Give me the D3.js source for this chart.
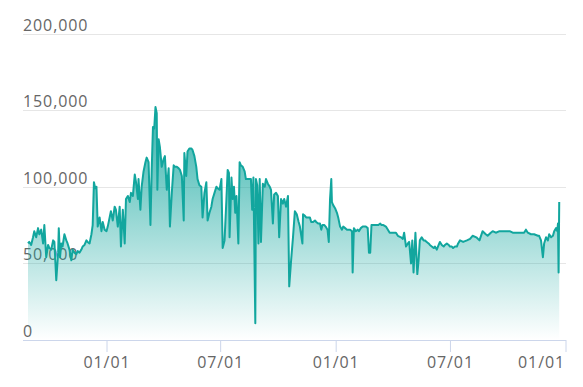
<!DOCTYPE html>
<html>
<head>
<meta charset="utf-8">
<script src="https://cdn.jsdelivr.net/npm/d3@7/dist/d3.min.js"></script>
<style>
  html, body { margin: 0; padding: 0; background: #ffffff; }
  svg { display: block; }
  text { font-family: "Open Sans", "Noto Sans", sans-serif; }
</style>
</head>
<body>
<svg id="chart" width="583" height="387"></svg>
<script>
// ---- data ----
const startDate = "2019-01-01";
const dayOffsets = [
  -125,-123,-120,-117,-115,-112,-109,-107,-104,-101,-99,-96,-93,-91,-88,-85,-83,-80,-77,-76,
  -74,-72,-70,-67,-64,-62,-59,-56,-54,-51,-48,-46,-43,-40,-38,-35,-32,-30,-27,-24,
  -22,-20,-18,-16,-14,-11,-8,-6,-3,0,2,5,7,10,13,15,18,21,23,26,
  29,31,34,37,39,42,45,47,50,51,54,56,59,62,64,67,70,72,74,76,
  78,80,81,83,85,88,91,93,96,99,101,104,107,109,112,115,117,120,123,124,
  127,129,132,135,137,140,143,145,148,151,153,156,159,161,164,167,169,172,175,177,
  180,183,185,188,191,193,195,196,199,201,203,205,207,210,212,214,217,220,222,225,
  228,230,232,234,237,238,240,242,244,246,249,252,254,257,260,262,265,267,270,273,
  275,278,281,283,286,289,291,294,297,300,303,306,308,312,313,316,318,321,324,326,
  329,332,334,337,340,342,344,347,349,352,354,356,358,359,361,364,367,369,372,375,
  377,380,383,385,388,391,392,394,397,400,402,405,408,410,413,416,418,420,422,425,
  428,430,433,436,438,441,445,451,456,461,464,469,472,474,477,480,482,485,487,489,
  492,495,497,499,502,505,507,510,513,515,518,521,523,526,529,531,534,537,539,542,
  545,547,550,552,555,558,560,563,568,574,579,583,589,594,599,604,607,612,615,620,
  626,631,636,642,647,652,657,663,665,668,671,676,681,687,689,692,695,697,700,703,
  705,708,711,713,716,718,719,720,721
];
const values = [
  63000,64000,62000,67000,71000,67000,73000,69000,72000,63000,75000,54000,62000,60000,59000,65000,64000,39000,57000,73000,
  54000,63000,61000,69000,65000,63000,59000,52000,59000,57000,56000,58000,57000,59000,61000,62000,65000,64000,63000,69000,
  75000,103000,99000,100000,74000,80000,71000,77000,72000,71000,74000,80000,84000,78000,87000,85000,74000,87000,61000,85000,
  63000,92000,94000,90000,96000,94000,108000,103000,92000,105000,85000,100000,110000,116000,119000,116000,75000,111000,139000,138000,
  152000,148000,98000,131000,126000,113000,118000,120000,98000,112000,74000,96000,114000,113000,113000,112000,111000,107000,78000,122000,
  107000,123000,125000,125000,124000,120000,113000,105000,101000,100000,80000,96000,103000,78000,83000,87000,92000,96000,100000,99000,
  98000,105000,60000,65000,92000,111000,109000,67000,106000,92000,100000,83000,94000,63000,116000,114000,113000,110000,105000,105000,
  105000,105000,85000,106000,11000,105000,101000,63000,105000,64000,102000,100000,105000,102000,100000,98000,76000,95000,96000,94000,
  67000,92000,89000,92000,87000,94000,35000,52000,67000,84000,82000,77000,74000,63000,82000,81000,80000,80000,80000,77000,
  77000,78000,77000,76000,76000,72000,75000,75000,74000,72000,64000,92000,105000,90000,88000,86000,83000,80000,74000,72000,
  74000,73000,72000,72000,72000,71000,44000,73000,71000,72000,71000,73000,74000,74000,74000,73000,57000,57000,75000,75000,
  75000,75000,75000,76000,75000,75000,74000,70000,70000,70000,68000,67000,66000,70000,61000,63000,64000,50000,65000,44000,
  70000,43000,52000,65000,67000,65000,65000,64000,63000,62000,61000,60000,61000,59000,62000,64000,62000,61000,62000,63000,
  62000,61000,61000,60000,61000,61000,63000,65000,64000,65000,66000,68000,67000,65000,71000,69000,68000,70000,71000,70000,
  71000,71000,71000,71000,70000,70000,70000,70000,70000,72000,70000,69000,69000,68000,68000,65000,54000,63000,67000,65000,
  69000,67000,68000,71000,73000,71000,76000,44000,90000
];
const yTicks = [0, 50000, 100000, 150000, 200000];
const xTickDates = ["2019-01-01", "2019-07-01", "2020-01-01", "2020-07-01", "2021-01-01"];

// ---- build ----
const parse = d3.utcParse("%Y-%m-%d");
const t0 = parse(startDate);
const data = dayOffsets.map((o, i) => ({ date: d3.utcDay.offset(t0, o), value: values[i] }));

const svg = d3.select("#chart");
const width = 583;
const plotLeft = 23, plotRight = 566, plotTop = 33.5, plotBottom = 340;

const x = d3.scaleUtc()
  .domain([parse("2019-01-01"), parse("2021-01-01")])
  .range([106.5, 565.5]);
const y = d3.scaleLinear().domain([0, 200000]).range([plotBottom, plotTop]);

// gradient
const defs = svg.append("defs");
const grad = defs.append("linearGradient")
  .attr("id", "areaGrad")
  .attr("gradientUnits", "userSpaceOnUse")
  .attr("x1", 0).attr("x2", 0)
  .attr("y1", y(d3.max(values))).attr("y2", plotBottom);
grad.append("stop").attr("offset", "0").attr("stop-color", "rgb(18,166,158)").attr("stop-opacity", 0.85);
grad.append("stop").attr("offset", "1").attr("stop-color", "rgb(18,166,158)").attr("stop-opacity", 0.0);

// grid lines
svg.append("g").selectAll("line")
  .data(yTicks.filter(d => d > 0))
  .join("line")
  .attr("x1", plotLeft).attr("x2", plotRight)
  .attr("y1", d => Math.round(y(d)) + 0.5).attr("y2", d => Math.round(y(d)) + 0.5)
  .attr("stroke", "#e6e6e6").attr("stroke-width", 1);

// y labels (behind series)
svg.append("g").selectAll("text")
  .data(yTicks)
  .join("text")
  .attr("x", plotLeft)
  .attr("y", d => y(d) - 3)
  .attr("fill", "#666666")
  .attr("font-size", 16)
  .attr("letter-spacing", 0.9)
  .text(d => d3.format(",")(d));

// area + line
const area = d3.area()
  .x(d => x(d.date))
  .y0(y(0))
  .y1(d => y(d.value))
  .curve(d3.curveLinear);
const line = d3.line()
  .x(d => x(d.date))
  .y(d => y(d.value))
  .curve(d3.curveLinear);

svg.append("path").datum(data)
  .attr("d", area)
  .attr("fill", "url(#areaGrad)");
svg.append("path").datum(data)
  .attr("d", line)
  .attr("fill", "none")
  .attr("stroke", "#12a69e")
  .attr("stroke-width", 2)
  .attr("stroke-linejoin", "round");

// x axis
const xAxis = d3.axisBottom(x)
  .tickValues(xTickDates.map(parse))
  .tickFormat(d3.utcFormat("%m/%d"))
  .tickSize(12)
  .tickSizeOuter(0);
const gx = svg.append("g")
  .attr("transform", `translate(0,${plotBottom})`)
  .call(xAxis);
gx.select(".domain").remove();
gx.append("line")
  .attr("x1", plotLeft).attr("x2", plotRight)
  .attr("y1", 0.5).attr("y2", 0.5)
  .attr("stroke", "#ccd6eb").attr("stroke-width", 1.2);
gx.selectAll(".tick line").attr("stroke", "#ccd6eb");
gx.selectAll(".tick text")
  .attr("fill", "#666666")
  .attr("font-size", 16)
  .attr("letter-spacing", 0.9)
  .attr("font-family", "Open Sans, Noto Sans, sans-serif")
  .attr("dy", null)
  .attr("y", 27.5);

// keep edge labels inside the view (shift like the original)
gx.selectAll(".tick").each(function() {
  const g = d3.select(this);
  const tx = +g.attr("transform").match(/translate\(([-\d.]+)/)[1];
  const txt = g.select("text");
  const w = txt.node().getComputedTextLength();
  if (tx + w / 2 > width - 18) {
    txt.attr("text-anchor", "end").attr("x", (width - 18) - tx);
  }
});
</script>
</body>
</html>
